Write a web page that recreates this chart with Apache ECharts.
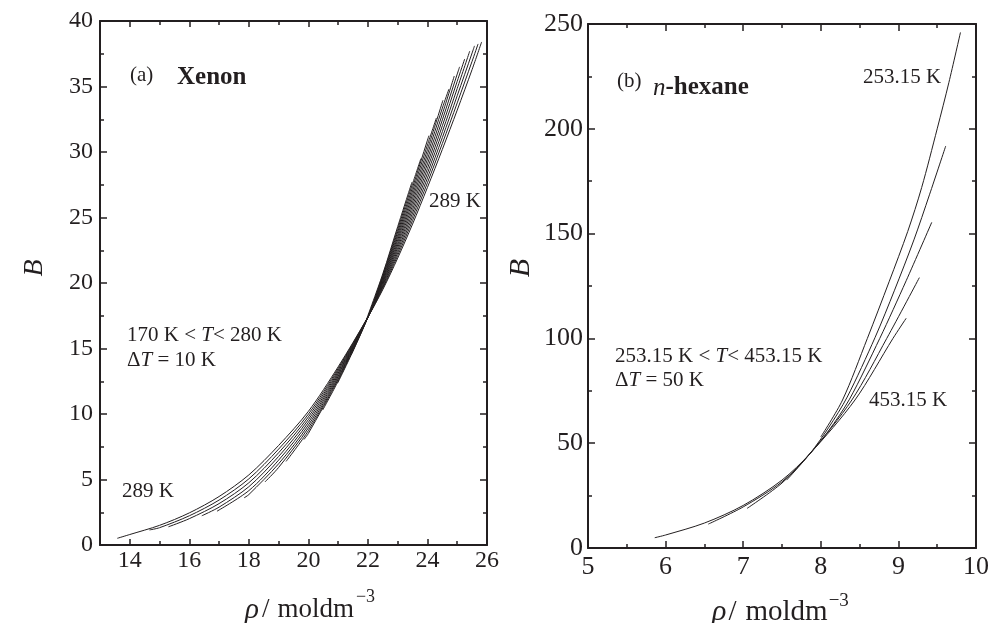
<!DOCTYPE html>
<html><head><meta charset="utf-8">
<script src="https://cdn.jsdelivr.net/npm/echarts@6/dist/echarts.min.js"></script>
<style>html,body{margin:0;padding:0;background:#fff}#c{width:991px;height:623px}</style>
</head><body><div id="c"></div>
<script>
// ---------- Data: (a) Xenon, B vs rho, 289 K and 280..170 K ----------
const xe289 = [[13.58,0.51],[14,0.8],[15,1.5],[16,2.45],[17,3.7],[18,5.35],[19,7.6],[20,10.2],[21,13.6],[22,17.4],[22.5,19.5],[23,21.9],[23.5,24.5],[24,27.3],[24.5,30.2],[25,33.2],[25.5,36.3],[25.82,38.4]];
const xe280 = [[14.66,1.15],[15,1.32],[16,2.23],[17,3.43],[18,5.05],[19,7.32],[20,9.99],[21,13.48],[22,17.4],[22.5,19.6],[23,22.1],[23.5,24.78],[24,27.66],[24.5,30.65],[25,33.75],[25.5,36.93],[25.7,38.25]];
const xe270 = [[15.3,1.39],[16,2.01],[17,3.16],[18,4.75],[19,7.04],[20,9.78],[21,13.36],[22,17.4],[22.5,19.7],[23,22.3],[23.5,25.06],[24,28.02],[24.5,31.1],[25,34.3],[25.5,37.56],[25.58,38.1]];
const xe260 = [[16.42,2.23],[17,2.89],[18,4.45],[19,6.76],[20,9.57],[21,13.24],[22,17.4],[22.5,19.8],[23,22.5],[23.5,25.34],[24,28.38],[24.5,31.55],[25,34.85],[25.42,37.7]];
const xe250 = [[16.93,2.58],[18,4.15],[19,6.48],[20,9.36],[21,13.12],[22,17.4],[22.5,19.9],[23,22.7],[23.5,25.62],[24,28.74],[24.5,32.0],[25,35.4],[25.25,37.1]];
const xe240 = [[17.84,3.6],[18,3.85],[19,6.2],[20,9.15],[21,13.0],[22,17.4],[22.5,20.0],[23,22.9],[23.5,25.9],[24,29.1],[24.5,32.45],[25,35.95],[25.08,36.5]];
const xe230 = [[18.54,4.81],[19,5.92],[20,8.94],[21,12.88],[22,17.4],[22.5,20.1],[23,23.1],[23.5,26.18],[24,29.46],[24.5,32.9],[24.9,35.8]];
const xe220 = [[19.25,6.38],[20,8.73],[21,12.76],[22,17.4],[22.5,20.2],[23,23.3],[23.5,26.46],[24,29.82],[24.5,33.35],[24.72,34.8]];
const xe210 = [[19.85,8.05],[20,8.52],[21,12.64],[22,17.4],[22.5,20.3],[23,23.5],[23.5,26.74],[24,30.18],[24.52,33.95]];
const xe200 = [[20.48,10.3],[21,12.52],[22,17.4],[22.5,20.4],[23,23.7],[23.5,27.02],[24,30.54],[24.3,32.6]];
const xe190 = [[20.98,12.35],[21.5,14.8],[22,17.4],[22.5,20.5],[23,23.9],[23.5,27.3],[24,30.9],[24.05,31.25]];
const xe180 = [[21.45,14.6],[22,17.4],[22.5,20.6],[23,24.1],[23.5,27.58],[23.78,29.5]];
const xe170 = [[21.9,16.9],[22.5,20.7],[23,24.3],[23.48,27.7]];

// ---------- Data: (b) n-hexane, 253.15 .. 453.15 K ----------
const hx253 = [[8.0,53],[8.28,70.6],[8.6,100],[8.88,127],[9.12,151],[9.3,172],[9.5,200],[9.65,222],[9.8,246]];
const hx303 = [[7.56,32.4],[7.86,45],[8.1,57.4],[8.34,72],[8.7,100.5],[8.95,123],[9.2,147],[9.4,168.5],[9.61,191.8]];
const hx353 = [[7.05,18.9],[7.5,31],[7.86,45],[8.1,55.9],[8.37,71],[8.76,100],[9.1,127.5],[9.43,155.4]];
const hx403 = [[6.55,11.4],[7.0,19.6],[7.5,31.6],[7.86,45],[8.4,70.6],[8.85,100],[9.27,129]];
const hx453 = [[5.86,4.9],[6.0,6.2],[6.5,11.9],[7.0,20.3],[7.5,32.4],[7.86,45],[8.44,70.6],[8.93,100],[9.1,109.6]];

// ---------- Ticks ----------
const xeXMajor = [14,16,18,20,22,24,26];
const xeXMinor = [15,17,19,21,23,25];
const xeYMajor = [0,5,10,15,20,25,30,35,40];
const xeYMinor = [2.5,7.5,12.5,17.5,22.5,27.5,32.5,37.5];
const hxXMajor = [5,6,7,8,9,10];
const hxXMinor = [5.5,6.5,7.5,8.5,9.5];
const hxYMajor = [0,50,100,150,200,250];
const hxYMinor = [25,75,125,175,225];

const INK = '#231f20';
const SERIF = '"Liberation Serif", "Times New Roman", serif';

function axes(grid, pos, min, max, major, minor, showLabels, fs, margin, majLen, minLen) {
  const base = {type:'value', gridIndex:grid, position:pos, min:min, max:max,
    splitLine:{show:false}, axisPointer:{show:false}, silent:true};
  const a = Object.assign({}, base, {
    axisLine:{show:true, onZero:false, lineStyle:{color:INK, width:2}},
    axisTick:{show:true, inside:true, length:majLen, customValues:major, lineStyle:{color:INK, width:1.5}},
    axisLabel:{show:showLabels, customValues:major, fontFamily:SERIF, fontSize:fs, color:INK, margin:margin}
  });
  const b = Object.assign({}, base, {
    axisLine:{show:false, onZero:false},
    axisTick:{show:true, inside:true, length:minLen, customValues:minor, lineStyle:{color:INK, width:1.5}},
    axisLabel:{show:false}
  });
  return [a, b];
}

const xAxes = [].concat(
  axes(0,'bottom',13,26,xeXMajor,xeXMinor,true,24,4,6,4),
  axes(0,'top',13,26,xeXMajor,xeXMinor,false,24,4,6,4),
  axes(1,'bottom',5,10,hxXMajor,hxXMinor,true,26,6,7,4),
  axes(1,'top',5,10,hxXMajor,hxXMinor,false,26,6,7,4)
);
const yAxes = [].concat(
  axes(0,'left',0,40,xeYMajor,xeYMinor,true,24,7,7,4),
  axes(0,'right',0,40,xeYMajor,xeYMinor,false,24,7,7,4),
  axes(1,'left',0,250,hxYMajor,hxYMinor,true,26,5,7,4),
  axes(1,'right',0,250,hxYMajor,hxYMinor,false,26,5,7,4)
);

function line(data, gi) {
  return {type:'line', xAxisIndex:gi*4, yAxisIndex:gi*4, data:data, smooth:0.3,
    showSymbol:false, symbol:'none', silent:true, lineStyle:{color:INK, width:1}};
}
const xenonCurves = [xe289, xe280, xe270, xe260, xe250, xe240, xe230, xe220, xe210, xe200, xe190, xe180, xe170];
const hexaneCurves = [hx253, hx303, hx353, hx403, hx453];

function rs(size, extra) { return Object.assign({fontFamily:SERIF, fontSize:size, fill:INK}, extra||{}); }
function t(x, y, text, size, rich, extra) {
  return Object.assign({type:'text', x:x, y:y, silent:true,
    style:{text:text, fontFamily:SERIF, fontSize:size, fill:INK, textAlign:'left', textVerticalAlign:'middle', rich:rich||undefined}}, extra||{});
}
const ann = {n: rs(21), i: rs(21,{fontStyle:'italic'})};

const graphics = [
  t(130,75,'(a)',21),
  Object.assign(t(177,78,'Xenon',25), {style:{text:'Xenon', fontFamily:SERIF, fontSize:25, fontWeight:'bold', fill:INK, textAlign:'left', textVerticalAlign:'middle'}}),
  t(127,335,'{n|170 K < }{i|T}{n|< 280 K}',21,ann),
  t(127,360,'{n|Δ}{i|T}{n| = 10 K}',21,ann),
  t(122,491,'289 K',21),
  t(429,201,'289 K',21),
  t(617,81,'(b)',21),
  t(653,88,'{ib|n}{b|-hexane}',25,{ib:rs(25,{fontStyle:'italic'}), b:rs(25,{fontWeight:'bold'})}),
  t(863,77,'253.15 K',21),
  t(615,356,'{n|253.15 K < }{i|T}{n|< 453.15 K}',21,ann),
  t(615,380,'{n|Δ}{i|T}{n| = 50 K}',21,ann),
  t(869,400,'453.15 K',21),
  // axis titles
  {type:'text', x:35, y:268, rotation:Math.PI/2, silent:true,
    style:{text:'B', fontFamily:SERIF, fontSize:28, fontStyle:'italic', fill:INK, textAlign:'center', textVerticalAlign:'middle'}},
  {type:'text', x:521, y:268, rotation:Math.PI/2, silent:true,
    style:{text:'B', fontFamily:SERIF, fontSize:30, fontStyle:'italic', fill:INK, textAlign:'center', textVerticalAlign:'middle'}},
  t(245,610,'{r|ρ}{n|/}{m|moldm}{s|−3}',27,{
    r: rs(29,{fontStyle:'italic', lineHeight:44}),
    n: rs(27,{lineHeight:44, padding:[0,0,0,3]}),
    m: rs(27,{lineHeight:44, padding:[0,0,0,8]}),
    s: rs(18,{lineHeight:10, verticalAlign:'top', padding:[0,0,0,2]})
  }),
  t(712,612,'{r|ρ}{n|/}{m|moldm}{s|−3}',29,{
    r: rs(30,{fontStyle:'italic', lineHeight:40}),
    n: rs(29,{lineHeight:40, padding:[0,0,0,2]}),
    m: rs(29,{lineHeight:40, padding:[0,0,0,9]}),
    s: rs(19,{lineHeight:13, verticalAlign:'top', padding:[0,0,0,1]})
  })
];

const chart = echarts.init(document.getElementById('c'), null, {renderer:'canvas'});
chart.setOption({
  animation:false,
  backgroundColor:'#ffffff',
  grid:[
    {left:100, top:21, width:387, height:524, containLabel:false, outerBoundsMode:'none'},
    {left:588, top:24, width:388, height:524, containLabel:false, outerBoundsMode:'none'}
  ],
  xAxis:xAxes,
  yAxis:yAxes,
  series: xenonCurves.map(d => line(d,0)).concat(hexaneCurves.map(d => line(d,1))),
  graphic:{elements:graphics}
});
</script>
</body></html>
